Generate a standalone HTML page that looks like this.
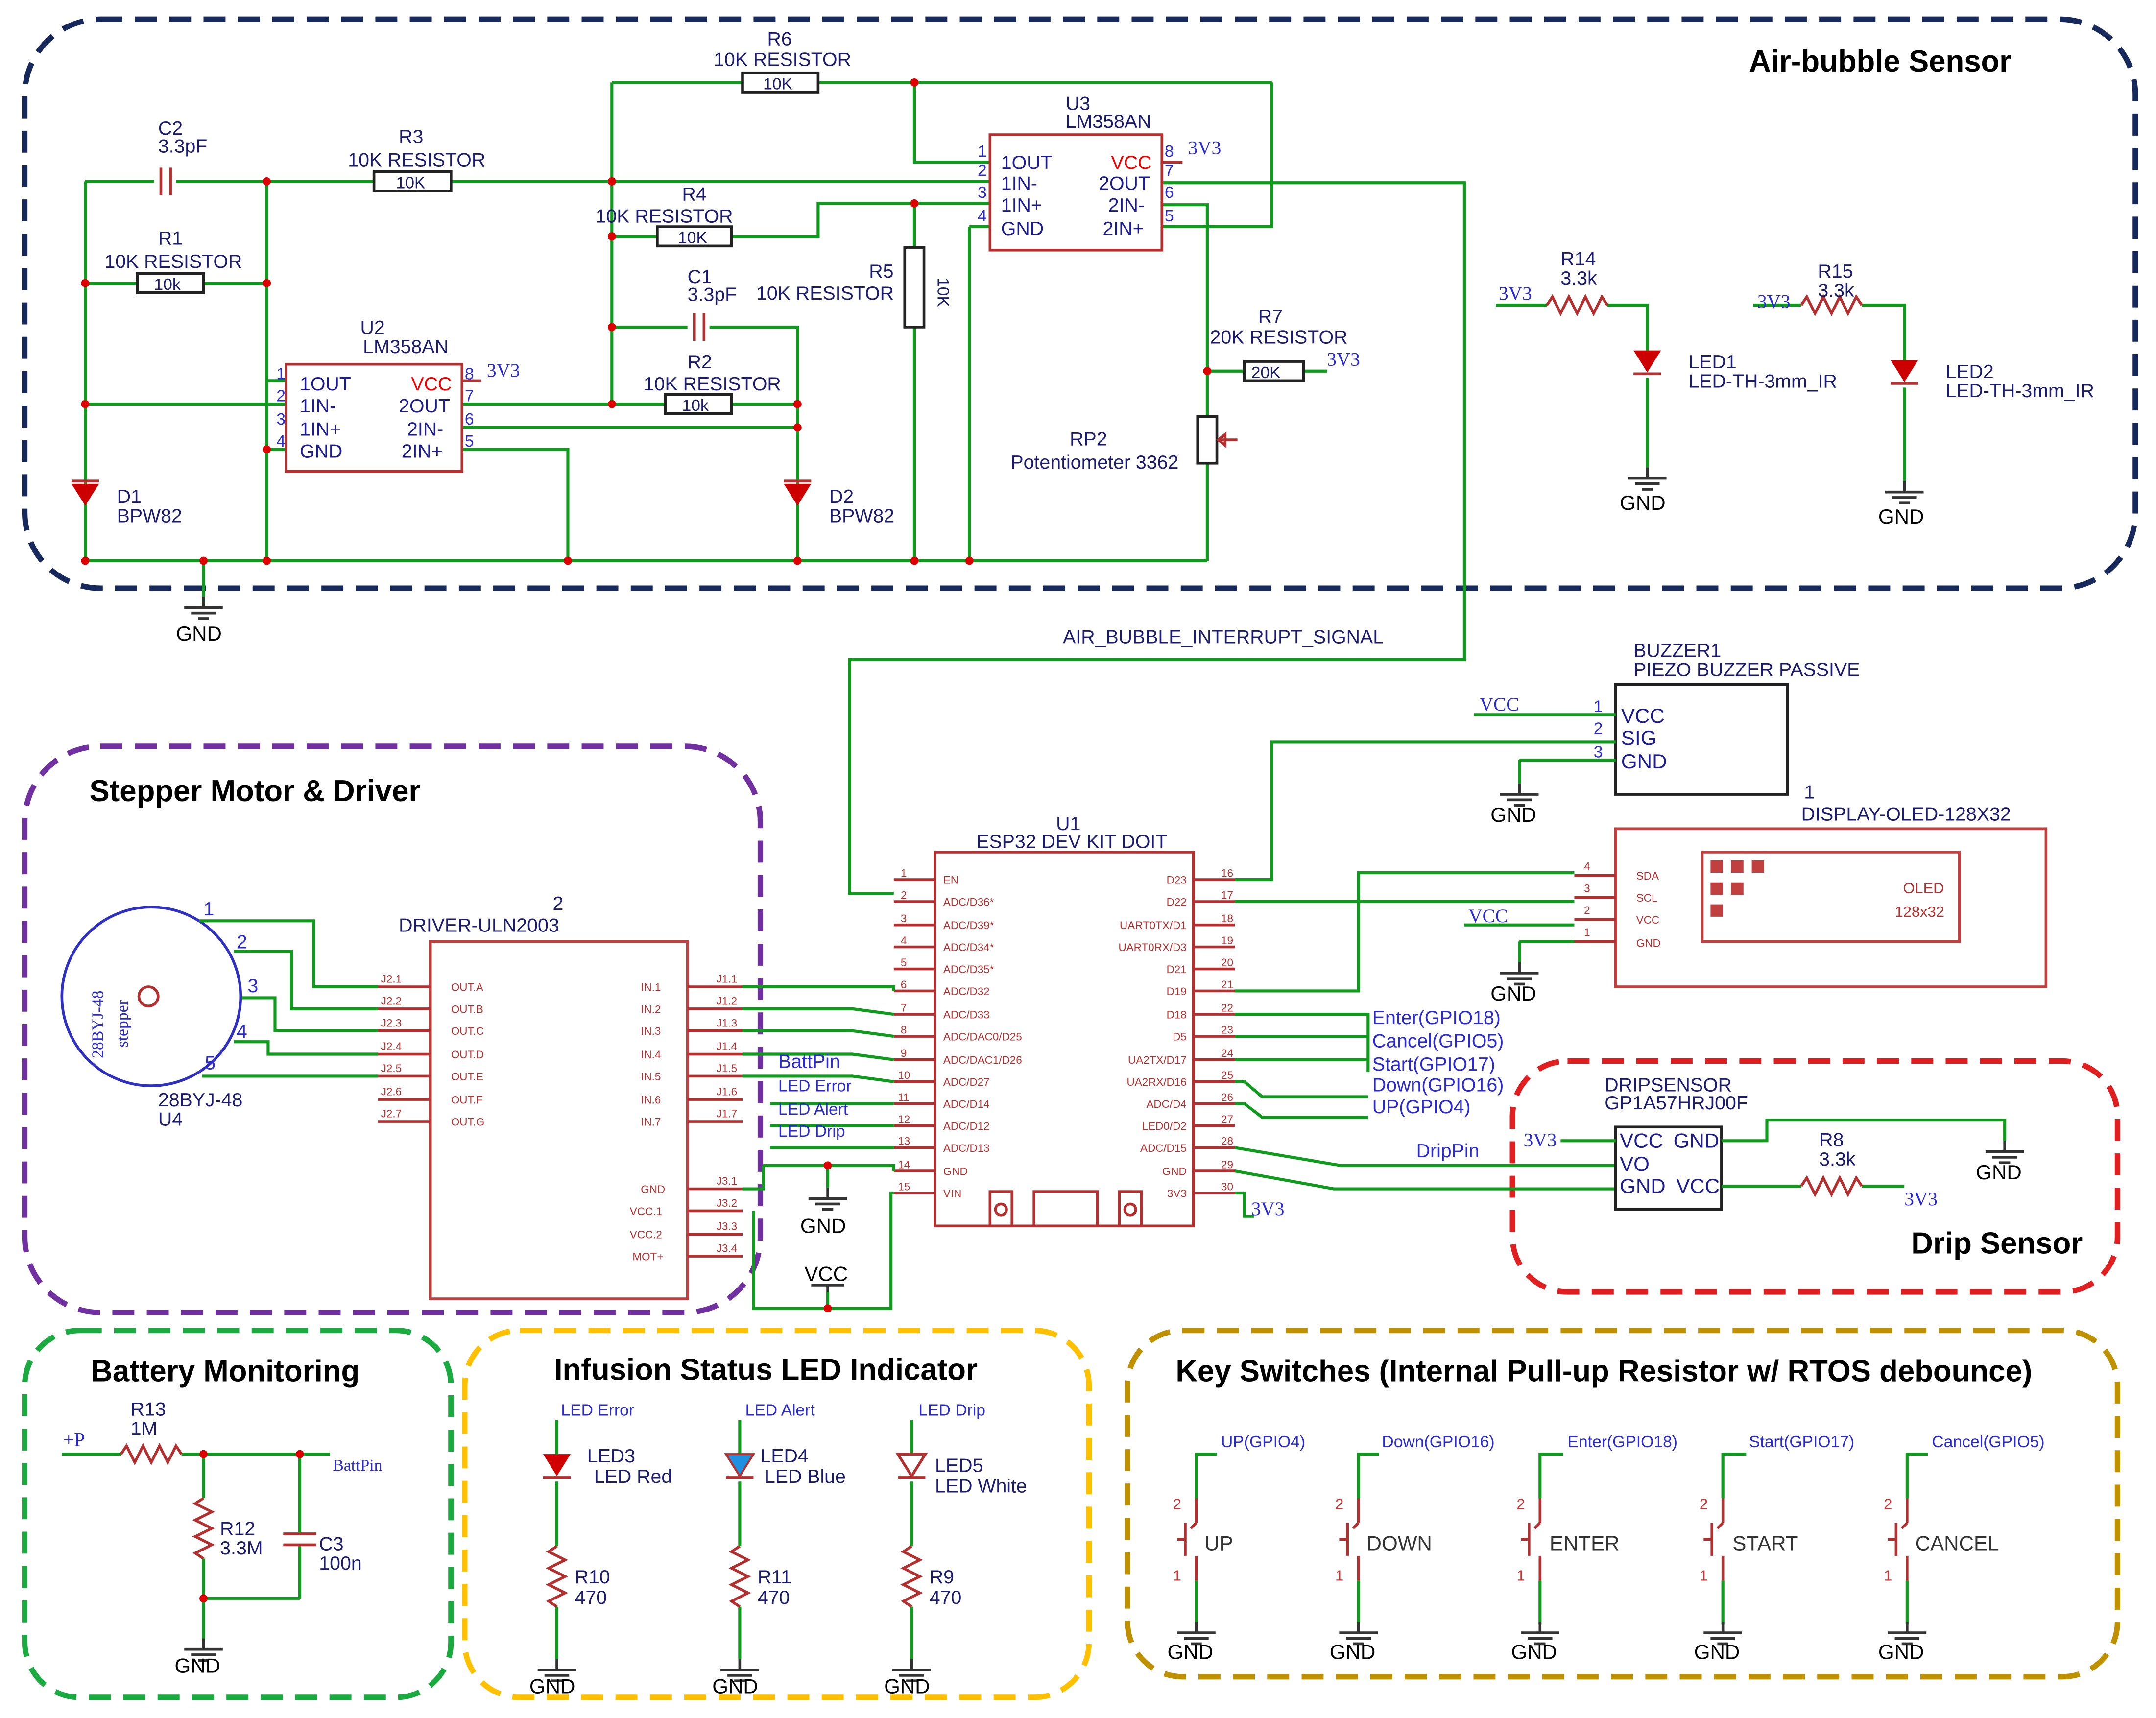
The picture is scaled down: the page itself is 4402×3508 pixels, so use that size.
<!DOCTYPE html>
<html><head><meta charset="utf-8"><style>
html,body{margin:0;padding:0;background:#fff}
svg{display:block}
text{font-family:"Liberation Sans",sans-serif}
.w{stroke:#119b1e;stroke-width:2.2;fill:none}
.c{stroke:#b23030;stroke-width:2;fill:none}
.t{fill:#1c1c6e;font-size:14px}
.b{fill:#2a2ad0;font-size:14px;font-family:"Liberation Serif",serif}
.p{fill:#b23030;font-size:8px}
.h{fill:#000;font-size:22px;font-weight:bold}
.d{fill:#d00}
.g{font-size:15px;fill:#000}
</style></head><body>
<svg width="4402" height="3508" viewBox="0 0 1568 1250" preserveAspectRatio="none" xmlns="http://www.w3.org/2000/svg">
<defs>
<g id="gnd"><line x1="0" y1="0" x2="0" y2="8" stroke="#333" stroke-width="2"/><line x1="-14" y1="8" x2="14" y2="8" stroke="#333" stroke-width="2"/><line x1="-9" y1="12" x2="9" y2="12" stroke="#333" stroke-width="2"/><line x1="-4" y1="16" x2="4" y2="16" stroke="#333" stroke-width="2"/></g>
<g id="zz"><polyline points="0,0 4,-6 10,6 16,-6 22,6 28,-6 34,6 40,-6 44,0" class="c"/></g>
<g id="zv"><polyline points="0,0 -6,4 6,10 -6,16 6,22 -6,28 6,34 -6,40 0,44" class="c"/></g>
<g id="sw"><line x1="0" y1="0" x2="0" y2="18" class="c"/><line x1="0" y1="42" x2="0" y2="60" class="c"/><line x1="-8" y1="18" x2="-8" y2="42" class="c" stroke-width="3"/><line x1="-8" y1="30" x2="-14" y2="30" class="c"/><line x1="0" y1="18" x2="-4" y2="22" class="c"/></g>
</defs>
<rect x="18" y="14" width="1535" height="414" rx="55" fill="none" stroke="#17285a" stroke-width="4" stroke-dasharray="16,9"/>
<rect x="18" y="543" width="535" height="412" rx="55" fill="none" stroke="#7030a0" stroke-width="4" stroke-dasharray="16,9"/>
<rect x="1100" y="772" width="440" height="168" rx="40" fill="none" stroke="#e02020" stroke-width="4" stroke-dasharray="16,9"/>
<rect x="18" y="968" width="310" height="267" rx="40" fill="none" stroke="#1aaa40" stroke-width="4" stroke-dasharray="16,9"/>
<rect x="338" y="968" width="454" height="267" rx="40" fill="none" stroke="#ffc000" stroke-width="4" stroke-dasharray="16,9"/>
<rect x="820" y="968" width="720" height="252" rx="40" fill="none" stroke="#bf9000" stroke-width="4" stroke-dasharray="16,9"/>
<text x="1272" y="52" class="h">Air-bubble Sensor</text>
<text x="65" y="583" class="h">Stepper Motor &amp; Driver</text>
<text x="1390" y="912" class="h">Drip Sensor</text>
<text x="66" y="1005" class="h">Battery Monitoring</text>
<text x="403" y="1004" class="h">Infusion Status LED Indicator</text>
<text x="855" y="1005" class="h">Key Switches (Internal Pull-up Resistor w/ RTOS debounce)</text>

<path class="w" d="M62 132H112M128 132H272M328 132H720M62 132V408M194 132V408M62 206H100M148 206H194M194 277H208M62 294H208M194 327H208"/>
<path class="w" d="M336 294H484M532 294H580M336 311H580M336 327H413V408M445 60V294M445 60H540M595 60H925M665 60V118H720M925 60V165H845"/>
<path class="w" d="M445 172H478M532 172H595V148H720M445 238H500M516 238H580V408M665 148V180M665 238V408M705 165H720M705 165V408"/>
<path class="w" d="M845 133H1065V480H618V650H650M845 149H878V303M878 270H905M948 270H965M878 337V408M62 408H878M148 408V440"/>
<g class="d"><circle cx="194" cy="132" r="3"/><circle cx="445" cy="132" r="3"/><circle cx="62" cy="206" r="3"/><circle cx="194" cy="206" r="3"/><circle cx="62" cy="294" r="3"/><circle cx="445" cy="294" r="3"/><circle cx="580" cy="294" r="3"/><circle cx="580" cy="311" r="3"/><circle cx="445" cy="238" r="3"/><circle cx="665" cy="60" r="3"/><circle cx="665" cy="148" r="3"/><circle cx="445" cy="172" r="3"/><circle cx="878" cy="270" r="3"/><circle cx="62" cy="408" r="3"/><circle cx="148" cy="408" r="3"/><circle cx="194" cy="408" r="3"/><circle cx="413" cy="408" r="3"/><circle cx="580" cy="408" r="3"/><circle cx="665" cy="408" r="3"/><circle cx="705" cy="408" r="3"/><circle cx="194" cy="327" r="3"/></g>
<use href="#gnd" x="148" y="434"/><text x="128" y="466" class="g">GND</text>
<g class="c"><line x1="117" y1="122" x2="117" y2="142"/><line x1="124" y1="122" x2="124" y2="142"/><line x1="505" y1="228" x2="505" y2="248"/><line x1="512" y1="228" x2="512" y2="248"/></g>
<text x="115" y="98" class="t">C2</text><text x="115" y="111" class="t">3.3pF</text>
<text x="500" y="206" class="t">C1</text><text x="500" y="219" class="t">3.3pF</text>
<g fill="#fff" stroke="#222" stroke-width="2"><rect x="272" y="125" width="56" height="14"/><rect x="100" y="199" width="48" height="14"/><rect x="484" y="287" width="48" height="14"/><rect x="478" y="165" width="54" height="14"/><rect x="540" y="53" width="55" height="14"/><rect x="658" y="180" width="14" height="58"/><rect x="905" y="263" width="43" height="14"/><rect x="871" y="303" width="14" height="34"/></g>
<g class="t" style="font-size:12px"><text x="288" y="137">10K</text><text x="112" y="211">10k</text><text x="496" y="299">10k</text><text x="493" y="177">10K</text><text x="555" y="65">10K</text><text x="910" y="275">20K</text><text x="661" y="195" transform="rotate(90 668 209)">10K</text></g>
<path d="M900 320H886M886 320l5-4v8z" stroke="#b23030" stroke-width="2" fill="none"/>
<text x="290" y="104" class="t">R3</text><text x="253" y="121" class="t">10K RESISTOR</text>
<text x="115" y="178" class="t">R1</text><text x="76" y="195" class="t">10K RESISTOR</text>
<text x="496" y="146" class="t">R4</text><text x="433" y="162" class="t">10K RESISTOR</text>
<text x="558" y="33" class="t">R6</text><text x="519" y="48" class="t">10K RESISTOR</text>
<text x="500" y="268" class="t">R2</text><text x="468" y="284" class="t">10K RESISTOR</text>
<text x="632" y="202" class="t">R5</text><text x="550" y="218" class="t">10K RESISTOR</text>
<text x="915" y="235" class="t">R7</text><text x="880" y="250" class="t">20K RESISTOR</text><text x="965" y="266" class="b">3V3</text>
<text x="778" y="324" class="t">RP2</text><text x="735" y="341" class="t">Potentiometer 3362</text>
<rect x="208" y="265" width="128" height="78" fill="none" stroke="#b23030" stroke-width="2"/>
<g class="t" style="fill:#1c1c8e"><text x="218" y="284">1OUT</text><text x="218" y="300">1IN-</text><text x="218" y="317">1IN+</text><text x="218" y="333">GND</text><text x="290" y="300">2OUT</text><text x="296" y="317">2IN-</text><text x="292" y="333">2IN+</text></g>
<text x="299" y="284" style="fill:#e00;font-size:14px">VCC</text>
<g class="b" style="font-size:12px"><text x="201" y="276">1</text><text x="201" y="292">2</text><text x="201" y="309">3</text><text x="201" y="325">4</text><text x="338" y="276">8</text><text x="338" y="292">7</text><text x="338" y="309">6</text><text x="338" y="325">5</text></g>
<path class="c" d="M336 277H350"/><text x="354" y="274" class="b">3V3</text>
<text x="262" y="243" class="t">U2</text><text x="264" y="257" class="t">LM358AN</text>
<rect x="720" y="98" width="125" height="84" fill="none" stroke="#b23030" stroke-width="2"/>
<g class="t" style="fill:#1c1c8e"><text x="728" y="123">1OUT</text><text x="728" y="138">1IN-</text><text x="728" y="154">1IN+</text><text x="728" y="171">GND</text><text x="799" y="138">2OUT</text><text x="806" y="154">2IN-</text><text x="802" y="171">2IN+</text></g>
<text x="808" y="123" style="fill:#e00;font-size:14px">VCC</text>
<g class="b" style="font-size:12px"><text x="711" y="114">1</text><text x="711" y="128">2</text><text x="711" y="144">3</text><text x="711" y="161">4</text><text x="847" y="114">8</text><text x="847" y="128">7</text><text x="847" y="144">6</text><text x="847" y="161">5</text></g>
<path class="c" d="M845 118H860"/><text x="864" y="112" class="b">3V3</text>
<text x="775" y="80" class="t">U3</text><text x="775" y="93" class="t">LM358AN</text>
<g fill="#c00"><path d="M52 352h20l-10 16z"/><path d="M570 352h20l-10 16z"/></g>
<path class="c" d="M52 350h20M570 350h20"/>
<text x="85" y="366" class="t">D1</text><text x="85" y="380" class="t">BPW82</text>
<text x="603" y="366" class="t">D2</text><text x="603" y="380" class="t">BPW82</text>
<path class="w" d="M1088 222H1125M1169 222H1198V255M1198 275V340M1275 222H1310M1354 222H1385V262M1385 282V350"/>
<use href="#zz" x="1125" y="222"/><use href="#zz" x="1310" y="222"/>
<path d="M1188 255h20l-10 16z" fill="#c00"/><path class="c" d="M1188 272h20"/>
<path d="M1375 262h20l-10 16z" fill="#c00"/><path class="c" d="M1375 279h20"/>
<use href="#gnd" x="1198" y="340"/><use href="#gnd" x="1385" y="350"/>
<text x="1178" y="371" class="g">GND</text><text x="1366" y="381" class="g">GND</text>
<text x="1090" y="218" class="b">3V3</text><text x="1135" y="193" class="t">R14</text><text x="1135" y="207" class="t">3.3k</text>
<text x="1278" y="224" class="b">3V3</text><text x="1322" y="202" class="t">R15</text><text x="1322" y="216" class="t">3.3k</text>
<text x="1228" y="268" class="t">LED1</text><text x="1228" y="282" class="t">LED-TH-3mm_IR</text>
<text x="1415" y="275" class="t">LED2</text><text x="1415" y="289" class="t">LED-TH-3mm_IR</text>
<text x="773" y="468" class="t">AIR_BUBBLE_INTERRUPT_SIGNAL</text>

<rect x="680" y="620" width="188" height="272" fill="none" stroke="#b23030" stroke-width="2"/>
<text x="768" y="604" class="t">U1</text><text x="710" y="617" class="t">ESP32 DEV KIT DOIT</text>
<g class="c">
<path d="M650 640h30M650 656h30M650 673h30M650 689h30M650 705h30M650 721h30M650 738h30M650 754h30M650 771h30M650 787h30M650 803h30M650 819h30M650 835h30M650 852h30M650 868h30"/>
<path d="M868 640h30M868 656h30M868 673h30M868 689h30M868 705h30M868 721h30M868 738h30M868 754h30M868 771h30M868 787h30M868 803h30M868 819h30M868 835h30M868 852h30M868 868h30"/>
<rect x="720" y="867" width="16" height="25"/><rect x="752" y="867" width="46" height="25"/><rect x="814" y="867" width="16" height="25"/>
<circle cx="728" cy="880" r="4"/><circle cx="822" cy="880" r="4"/></g>
<g class="p"><text x="686" y="643">EN</text><text x="686" y="659">ADC/D36*</text><text x="686" y="676">ADC/D39*</text><text x="686" y="692">ADC/D34*</text><text x="686" y="708">ADC/D35*</text><text x="686" y="724">ADC/D32</text><text x="686" y="741">ADC/D33</text><text x="686" y="757">ADC/DAC0/D25</text><text x="686" y="774">ADC/DAC1/D26</text><text x="686" y="790">ADC/D27</text><text x="686" y="806">ADC/D14</text><text x="686" y="822">ADC/D12</text><text x="686" y="838">ADC/D13</text><text x="686" y="855">GND</text><text x="686" y="871">VIN</text></g>
<g class="p" text-anchor="end"><text x="863" y="643">D23</text><text x="863" y="659">D22</text><text x="863" y="676">UART0TX/D1</text><text x="863" y="692">UART0RX/D3</text><text x="863" y="708">D21</text><text x="863" y="724">D19</text><text x="863" y="741">D18</text><text x="863" y="757">D5</text><text x="863" y="774">UA2TX/D17</text><text x="863" y="790">UA2RX/D16</text><text x="863" y="806">ADC/D4</text><text x="863" y="822">LED0/D2</text><text x="863" y="838">ADC/D15</text><text x="863" y="855">GND</text><text x="863" y="871">3V3</text></g>
<g class="p"><text x="655" y="638">1</text><text x="655" y="654">2</text><text x="655" y="671">3</text><text x="655" y="687">4</text><text x="655" y="703">5</text><text x="655" y="719">6</text><text x="655" y="736">7</text><text x="655" y="752">8</text><text x="655" y="769">9</text><text x="653" y="785">10</text><text x="653" y="801">11</text><text x="653" y="817">12</text><text x="653" y="833">13</text><text x="653" y="850">14</text><text x="653" y="866">15</text>
<text x="888" y="638">16</text><text x="888" y="654">17</text><text x="888" y="671">18</text><text x="888" y="687">19</text><text x="888" y="703">20</text><text x="888" y="719">21</text><text x="888" y="736">22</text><text x="888" y="752">23</text><text x="888" y="769">24</text><text x="888" y="785">25</text><text x="888" y="801">26</text><text x="888" y="817">27</text><text x="888" y="833">28</text><text x="888" y="850">29</text><text x="888" y="866">30</text></g>

<rect x="1175" y="498" width="125" height="80" fill="none" stroke="#222" stroke-width="2"/>
<text x="1188" y="478" class="t">BUZZER1</text><text x="1188" y="492" class="t">PIEZO BUZZER PASSIVE</text>
<g class="t" style="fill:#1c1c8e;font-size:15px"><text x="1179" y="526">VCC</text><text x="1179" y="542">SIG</text><text x="1179" y="559">GND</text></g>
<g class="b" style="font-size:12px"><text x="1159" y="518">1</text><text x="1159" y="534">2</text><text x="1159" y="551">3</text></g>
<path class="w" d="M1072 520H1175M898 640H925V540H1175M1105 553H1175M1105 553V570"/>
<text x="1076" y="517" class="b">VCC</text><use href="#gnd" x="1105" y="570"/><text x="1084" y="598" class="g">GND</text>
<rect x="1175" y="603" width="313" height="115" fill="none" stroke="#c04040" stroke-width="2"/>
<rect x="1238" y="620" width="187" height="65" fill="none" stroke="#c04040" stroke-width="2"/>
<g fill="#c04040"><rect x="1244" y="626" width="9" height="9"/><rect x="1259" y="626" width="9" height="9"/><rect x="1274" y="626" width="9" height="9"/><rect x="1244" y="642" width="9" height="9"/><rect x="1259" y="642" width="9" height="9"/><rect x="1244" y="658" width="9" height="9"/></g>
<text x="1384" y="650" class="p" style="font-size:11px">OLED</text><text x="1378" y="667" class="p" style="font-size:11px">128x32</text>
<g class="p"><text x="1190" y="640">SDA</text><text x="1190" y="656">SCL</text><text x="1190" y="672">VCC</text><text x="1190" y="689">GND</text><text x="1152" y="633">4</text><text x="1152" y="649">3</text><text x="1152" y="665">2</text><text x="1152" y="681">1</text></g>
<path class="c" d="M1145 637h30M1145 653h30M1145 669h30M1145 685h30"/>
<text x="1312" y="581" class="t">1</text><text x="1310" y="597" class="t">DISPLAY-OLED-128X32</text>
<path class="w" d="M898 721H988V635H1145M898 656H1145M1065 673H1145M1105 685H1145M1105 685V700"/>
<text x="1068" y="671" class="b">VCC</text><use href="#gnd" x="1105" y="700"/><text x="1084" y="728" class="g">GND</text>
<path class="w" d="M898 738H995V780M898 754H995M898 771H995M898 787H905L918 798H995M898 803H905L918 813H995"/>
<g class="b"><text x="998" y="745">Enter(GPIO18)</text><text x="998" y="762">Cancel(GPIO5)</text><text x="998" y="779">Start(GPIO17)</text><text x="998" y="794">Down(GPIO16)</text><text x="998" y="810">UP(GPIO4)</text><text x="1030" y="842">DripPin</text></g>
<path class="w" d="M898 835L975 848H1175M898 852L970 865H1175M898 868H905V885H912"/>
<text x="910" y="884" class="b">3V3</text>
<rect x="1175" y="820" width="77" height="60" fill="none" stroke="#222" stroke-width="2"/>
<g class="t" style="fill:#1c1c8e;font-size:15px"><text x="1178" y="835">VCC</text><text x="1217" y="835">GND</text><text x="1178" y="852">VO</text><text x="1178" y="868">GND</text><text x="1219" y="868">VCC</text></g>
<text x="1167" y="794" class="t">DRIPSENSOR</text><text x="1167" y="807" class="t">GP1A57HRJ00F</text>
<path class="w" d="M1135 830H1175M1252 830H1285V815H1458V830M1252 863H1310M1354 863H1385"/>
<use href="#zz" x="1310" y="863"/><text x="1108" y="834" class="b">3V3</text><text x="1385" y="877" class="b">3V3</text>
<text x="1323" y="834" class="t">R8</text><text x="1323" y="848" class="t">3.3k</text>
<use href="#gnd" x="1458" y="830"/><text x="1437" y="858" class="g">GND</text>

<circle cx="110" cy="725" r="65" fill="none" stroke="#3030c0" stroke-width="2"/>
<circle cx="108" cy="725" r="7" fill="none" stroke="#b23030" stroke-width="2"/>
<text x="0" y="0" class="b" style="font-size:12px" transform="translate(75 770) rotate(-90)">28BYJ-48</text>
<text x="0" y="0" class="b" style="font-size:12px" transform="translate(93 762) rotate(-90)">stepper</text>
<text x="115" y="805" class="t">28BYJ-48</text><text x="115" y="819" class="t">U4</text>
<g class="b"><text x="148" y="666">1</text><text x="172" y="690">2</text><text x="180" y="722">3</text><text x="172" y="755">4</text><text x="149" y="778">5</text></g>
<path class="w" d="M145 670H228V718H275M170 692H212V734H275M176 726H200V750H275M170 758H195V767H275M147 783H275"/>
<rect x="313" y="685" width="187" height="260" fill="none" stroke="#c04040" stroke-width="2"/>
<text x="402" y="662" class="t">2</text><text x="290" y="678" class="t">DRIVER-ULN2003</text>
<g class="c"><path d="M275 718h38M275 734h38M275 750h38M275 767h38M275 783h38M275 800h38M275 816h38"/><path d="M500 718h40M500 734h40M500 750h40M500 767h40M500 783h40M500 800h40M500 816h40M500 865h40M500 881h40M500 898h40M500 914h40"/></g>
<g class="p"><text x="277" y="715">J2.1</text><text x="277" y="731">J2.2</text><text x="277" y="747">J2.3</text><text x="277" y="764">J2.4</text><text x="277" y="780">J2.5</text><text x="277" y="797">J2.6</text><text x="277" y="813">J2.7</text>
<text x="328" y="721">OUT.A</text><text x="328" y="737">OUT.B</text><text x="328" y="753">OUT.C</text><text x="328" y="770">OUT.D</text><text x="328" y="786">OUT.E</text><text x="328" y="803">OUT.F</text><text x="328" y="819">OUT.G</text>
<text x="466" y="721">IN.1</text><text x="466" y="737">IN.2</text><text x="466" y="753">IN.3</text><text x="466" y="770">IN.4</text><text x="466" y="786">IN.5</text><text x="466" y="803">IN.6</text><text x="466" y="819">IN.7</text>
<text x="466" y="868">GND</text><text x="458" y="884">VCC.1</text><text x="458" y="901">VCC.2</text><text x="460" y="917">MOT+</text>
<text x="521" y="715">J1.1</text><text x="521" y="731">J1.2</text><text x="521" y="747">J1.3</text><text x="521" y="764">J1.4</text><text x="521" y="780">J1.5</text><text x="521" y="797">J1.6</text><text x="521" y="813">J1.7</text><text x="521" y="862">J3.1</text><text x="521" y="878">J3.2</text><text x="521" y="895">J3.3</text><text x="521" y="911">J3.4</text></g>
<path class="w" d="M540 718H650V721M540 734H620L650 738M540 750H620L650 754M540 767H620L650 771M540 783H620L650 787M560 803H650M560 819H650M560 835H650M555 848H650V852M555 848V865H540M548 881V952H648V868H650M602 848V864M602 940V952"/>
<g class="b" style="font-size:12px"><text x="566" y="777" style="font-size:14px">BattPin</text><text x="566" y="794">LED Error</text><text x="566" y="811">LED Alert</text><text x="566" y="827">LED Drip</text></g>
<circle cx="602" cy="848" r="3" class="d"/><circle cx="602" cy="952" r="3" class="d"/>
<use href="#gnd" x="602" y="864"/><text x="582" y="897" class="g">GND</text>
<path d="M602 940V935M590 935h24" stroke="#333" stroke-width="2"/><text x="585" y="932" class="g">VCC</text>

<text x="46" y="1052" class="b">+P</text>
<path class="w" d="M45 1058H88M132 1058H240M148 1058V1090M148 1134V1192M218 1058V1115M218 1125V1163M148 1163H218"/>
<use href="#zz" x="88" y="1058"/><use href="#zv" x="148" y="1090"/>
<path class="c" d="M206 1116h24M206 1124h24"/>
<circle cx="148" cy="1058" r="3" class="d"/><circle cx="218" cy="1058" r="3" class="d"/><circle cx="148" cy="1163" r="3" class="d"/>
<text x="95" y="1030" class="t">R13</text><text x="95" y="1044" class="t">1M</text>
<text x="160" y="1117" class="t">R12</text><text x="160" y="1131" class="t">3.3M</text>
<text x="232" y="1128" class="t">C3</text><text x="232" y="1142" class="t">100n</text>
<text x="242" y="1070" class="b" style="font-size:12px">BattPin</text>
<use href="#gnd" x="148" y="1192"/><text x="127" y="1217" class="g">GND</text>

<g class="b" style="font-size:12px"><text x="408" y="1030">LED Error</text><text x="542" y="1030">LED Alert</text><text x="668" y="1030">LED Drip</text></g>
<path class="w" d="M405 1033V1058M405 1078V1125M405 1169V1207M538 1033V1058M538 1078V1125M538 1169V1207M663 1033V1058M663 1078V1125M663 1169V1207"/>
<path d="M395 1058h20l-10 16z" fill="#d00000"/><path class="c" d="M395 1075h20"/>
<path d="M528 1058h20l-10 16z" fill="#2090e0" stroke="#b23030" stroke-width="1.5"/><path class="c" d="M528 1075h20"/>
<path d="M653 1058h20l-10 16z" fill="#fff" stroke="#b23030" stroke-width="2"/><path class="c" d="M653 1075h20"/>
<use href="#zv" x="405" y="1125"/><use href="#zv" x="538" y="1125"/><use href="#zv" x="663" y="1125"/>
<g class="t"><text x="427" y="1064">LED3</text><text x="432" y="1079">LED Red</text><text x="553" y="1064">LED4</text><text x="556" y="1079">LED Blue</text><text x="680" y="1071">LED5</text><text x="680" y="1086">LED White</text>
<text x="418" y="1152">R10</text><text x="418" y="1167">470</text><text x="551" y="1152">R11</text><text x="551" y="1167">470</text><text x="676" y="1152">R9</text><text x="676" y="1167">470</text></g>
<use href="#gnd" x="405" y="1207"/><use href="#gnd" x="538" y="1207"/><use href="#gnd" x="663" y="1207"/>
<g class="g"><text x="385" y="1232">GND</text><text x="518" y="1232">GND</text><text x="643" y="1232">GND</text></g>

<g class="b" style="font-size:12px"><text x="888" y="1053">UP(GPIO4)</text><text x="1005" y="1053">Down(GPIO16)</text><text x="1140" y="1053">Enter(GPIO18)</text><text x="1272" y="1053">Start(GPIO17)</text><text x="1405" y="1053">Cancel(GPIO5)</text></g>
<path class="w" d="M885 1058H870V1090M1003 1058H988V1090M1137 1058H1120V1090M1270 1058H1253V1090M1402 1058H1387V1090M870 1150V1182M988 1150V1182M1120 1150V1182M1253 1150V1182M1387 1150V1182"/>
<use href="#sw" x="870" y="1090"/><use href="#sw" x="988" y="1090"/><use href="#sw" x="1120" y="1090"/><use href="#sw" x="1253" y="1090"/><use href="#sw" x="1387" y="1090"/>
<g class="b" style="font-size:11px;fill:#c33"><text x="853" y="1098">2</text><text x="853" y="1150">1</text><text x="971" y="1098">2</text><text x="971" y="1150">1</text><text x="1103" y="1098">2</text><text x="1103" y="1150">1</text><text x="1236" y="1098">2</text><text x="1236" y="1150">1</text><text x="1370" y="1098">2</text><text x="1370" y="1150">1</text></g>
<g class="t" style="font-size:15px;fill:#333"><text x="876" y="1128">UP</text><text x="994" y="1128">DOWN</text><text x="1127" y="1128">ENTER</text><text x="1260" y="1128">START</text><text x="1393" y="1128">CANCEL</text></g>
<use href="#gnd" x="870" y="1180"/><use href="#gnd" x="988" y="1180"/><use href="#gnd" x="1120" y="1180"/><use href="#gnd" x="1253" y="1180"/><use href="#gnd" x="1387" y="1180"/>
<g class="g"><text x="849" y="1207">GND</text><text x="967" y="1207">GND</text><text x="1099" y="1207">GND</text><text x="1232" y="1207">GND</text><text x="1366" y="1207">GND</text></g>
</svg>
</body></html>
